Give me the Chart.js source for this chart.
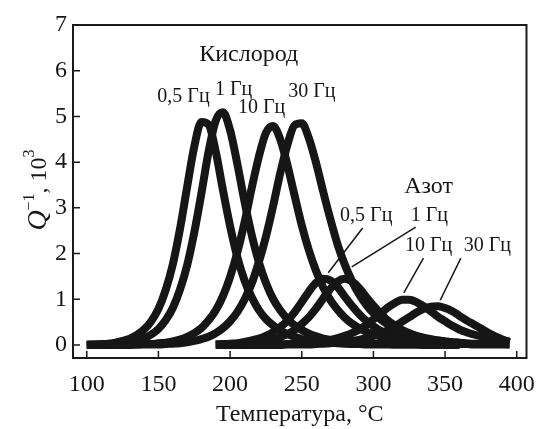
<!DOCTYPE html>
<html>
<head>
<meta charset="utf-8">
<script src="https://cdn.jsdelivr.net/npm/chart.js@4.4.1/dist/chart.umd.min.js"></script>
<style>
  html, body { margin: 0; padding: 0; background: #fff; }
</style>
</head>
<body>
<canvas id="chart" width="547" height="429"></canvas>
<script>
// Температурные сетки (°C)
const tempOxygen = [100,105,110,115,120,125,130,135,140,145,150,155,160,165,170,175,180,185,190,195,
  200,205,210,215,220,225,230,235,240,245,250,255,260,265,270,275,280,285,290,295,
  300,305,310,315,320,325,330,335,340,345,350,355,360]
const tempNitrogen = [190,195,200,205,210,215,220,225,230,235,240,245,250,255,260,265,270,275,280,285,
  290,295,300,305,310,315,320,325,330,335,340,345,350,355,360,365,370,375,380,385,390,395]

// Кислород, Q^-1 * 10^3
const oxy05 = [0.01,0.01,0.02,0.03,0.05,0.09,0.14,0.22,0.34,0.52,0.79,1.20,1.76,2.53,3.45,4.34,4.88,4.82,4.23,3.39,
  2.60,1.93,1.42,1.05,0.77,0.57,0.43,0.32,0.24,0.18,0.13,0.10,0.08,0.06,0.05,0.04,0.03,0.02,0.02,0.01,
  0.01,0.01,0.01,0.01,0.01,0.01,0.01,0.00,0.00,0.00,0.00,0.00,0.00]
const oxy1 = [0.00,0.01,0.01,0.01,0.02,0.04,0.06,0.10,0.15,0.23,0.35,0.54,0.81,1.21,1.74,2.46,3.32,4.23,4.91,5.09,
  4.70,3.97,3.15,2.42,1.82,1.36,1.01,0.76,0.57,0.43,0.33,0.25,0.19,0.14,0.11,0.09,0.07,0.05,0.04,0.03,
  0.03,0.02,0.02,0.01,0.01,0.01,0.01,0.01,0.01,0.01,0.00,0.00,0.00]
const oxy10 = [0.00,0.00,0.00,0.01,0.01,0.01,0.01,0.01,0.02,0.02,0.04,0.05,0.08,0.12,0.18,0.26,0.37,0.54,0.76,1.07,
  1.49,2.02,2.67,3.42,4.11,4.64,4.79,4.50,3.94,3.27,2.62,2.07,1.62,1.26,0.98,0.77,0.60,0.47,0.37,0.29,
  0.23,0.19,0.15,0.12,0.10,0.08,0.06,0.05,0.04,0.03,0.03,0.02,0.02]
const oxy30 = [0.00,0.00,0.00,0.00,0.00,0.00,0.00,0.01,0.01,0.01,0.01,0.02,0.03,0.04,0.06,0.09,0.13,0.18,0.26,0.37,
  0.52,0.72,0.99,1.34,1.81,2.37,3.04,3.76,4.38,4.81,4.85,4.52,3.98,3.35,2.75,2.20,1.76,1.40,1.11,0.88,
  0.70,0.56,0.45,0.36,0.29,0.24,0.19,0.15,0.12,0.10,0.08,0.06,0.05]

// Азот
const nit05 = [0.01,0.02,0.03,0.04,0.07,0.10,0.14,0.20,0.28,0.39,0.53,0.72,0.94,1.17,1.36,1.45,1.41,1.27,1.06,0.86,
  0.68,0.53,0.41,0.31,0.24,0.19,0.15,0.11,0.09,0.07,0.06,0.04,0.03,0.03,0.02,0.02,0.01,0.01,0.01,0.01,0.01,0.01]
const nit1 = [0.01,0.01,0.01,0.02,0.03,0.04,0.06,0.09,0.12,0.17,0.24,0.33,0.46,0.61,0.80,1.02,1.23,1.39,1.45,1.39,
  1.25,1.05,0.86,0.69,0.54,0.43,0.33,0.26,0.20,0.16,0.13,0.10,0.08,0.06,0.05,0.04,0.03,0.03,0.02,0.02,0.02,0.01]
const nit10 = [0.00,0.00,0.00,0.00,0.00,0.00,0.01,0.01,0.01,0.01,0.02,0.02,0.03,0.04,0.06,0.08,0.11,0.15,0.20,0.26,
  0.34,0.44,0.56,0.69,0.82,0.92,0.99,0.99,0.94,0.85,0.74,0.62,0.52,0.42,0.34,0.28,0.23,0.19,0.15,0.12,0.10,0.08]
const nit30 = [0.00,0.00,0.00,0.00,0.00,0.00,0.00,0.00,0.00,0.00,0.01,0.01,0.01,0.01,0.02,0.03,0.04,0.05,0.07,0.09,
  0.11,0.15,0.20,0.25,0.32,0.41,0.51,0.61,0.71,0.79,0.84,0.85,0.81,0.74,0.64,0.54,0.45,0.36,0.27,0.19,0.12,0.06]

// Оси
const xTicks = [100, 150, 200, 250, 300, 350, 400]
const yTicks = [0, 1, 2, 3, 4, 5, 6, 7]

// Подписи (координаты в единицах данных)
const labelText = ['Кислород', '0,5 Гц', '1 Гц', '10 Гц', '30 Гц', 'Азот', '0,5 Гц', '1 Гц', '10 Гц', '30 Гц']
const labelX = [213, 167.5, 202.5, 222, 257, 338.5, 295, 339, 338.5, 379.5]
const labelY = [6.35, 5.43, 5.58, 5.19, 5.53, 3.46, 2.82, 2.82, 2.17, 2.17]
const labelSize = [24, 20, 20, 20, 20, 24, 20, 20, 20, 20]
// Выноски
const leaderFrom = [[292.5, 2.56], [329.5, 2.58], [334.9, 1.90], [361, 1.90]]
const leaderTo = [[268.5, 1.58], [284.9, 1.71], [321.2, 1.14], [346.6, 0.98]]

const serif = "'Liberation Serif', 'Times New Roman', serif"
const ink = '#161616'

function toPoints(xs, ys) {
  return xs.map((x, i) => ({ x: x, y: ys[i] }))
}

const series = [
  [tempOxygen, oxy05], [tempOxygen, oxy1], [tempOxygen, oxy10], [tempOxygen, oxy30],
  [tempNitrogen, nit05], [tempNitrogen, nit1], [tempNitrogen, nit10], [tempNitrogen, nit30]
]

const datasets = series.map(s => ({
  data: toPoints(s[0], s[1]),
  borderColor: ink,
  borderWidth: 8,
  pointRadius: 0,
  cubicInterpolationMode: 'monotone',
  borderCapStyle: 'butt',
  borderJoinStyle: 'round',
  fill: false
}))

// Рамка и внутренние засечки
const frameTicks = {
  id: 'frameTicks',
  afterDatasetsDraw(chart) {
    const ctx = chart.ctx
    const { left, right, top, bottom } = chart.chartArea
    const xs = chart.scales.x
    const ys = chart.scales.y
    ctx.save()
    ctx.strokeStyle = '#1a1a1a'
    ctx.lineWidth = 2
    ctx.strokeRect(left, top, right - left, bottom - top)
    ctx.lineWidth = 1.5
    ctx.beginPath()
    xTicks.forEach(v => {
      const p = xs.getPixelForValue(v)
      ctx.moveTo(p, bottom)
      ctx.lineTo(p, bottom - 7)
    })
    yTicks.forEach(v => {
      const p = ys.getPixelForValue(v)
      ctx.moveTo(left, p)
      ctx.lineTo(left + 7, p)
    })
    ctx.stroke()
    ctx.restore()
  }
}

// Текстовые подписи и выноски
const annotations = {
  id: 'annotations',
  afterDatasetsDraw(chart) {
    const ctx = chart.ctx
    const xs = chart.scales.x
    const ys = chart.scales.y
    ctx.save()
    ctx.fillStyle = ink
    ctx.textAlign = 'center'
    ctx.textBaseline = 'middle'
    labelText.forEach((t, i) => {
      ctx.font = labelSize[i] + 'px ' + serif
      ctx.fillText(t, xs.getPixelForValue(labelX[i]), ys.getPixelForValue(labelY[i]))
    })
    ctx.strokeStyle = ink
    ctx.lineWidth = 1.5
    ctx.beginPath()
    leaderFrom.forEach((a, i) => {
      const b = leaderTo[i]
      ctx.moveTo(xs.getPixelForValue(a[0]), ys.getPixelForValue(a[1]))
      ctx.lineTo(xs.getPixelForValue(b[0]), ys.getPixelForValue(b[1]))
    })
    ctx.stroke()
    ctx.restore()
  }
}

// Подпись оси Y: Q^-1, 10^3
const yTitle = {
  id: 'yTitle',
  afterDraw(chart) {
    const ctx = chart.ctx
    const parts = [
      { t: 'Q', font: 'italic 28px ' + serif, dy: 0 },
      { t: '\u22121', font: '16px ' + serif, dy: -12 },
      { t: ', 10', font: '24px ' + serif, dy: 0 },
      { t: '3', font: '16px ' + serif, dy: -12 }
    ]
    ctx.save()
    let total = 0
    parts.forEach(p => { ctx.font = p.font; p.w = ctx.measureText(p.t).width; total += p.w })
    ctx.translate(46, 190)
    ctx.rotate(-Math.PI / 2)
    ctx.fillStyle = ink
    ctx.textBaseline = 'alphabetic'
    ctx.textAlign = 'left'
    let x = -total / 2
    parts.forEach(p => {
      ctx.font = p.font
      ctx.fillText(p.t, x, p.dy)
      x += p.w
    })
    ctx.restore()
  }
}

new Chart(document.getElementById('chart'), {
  type: 'line',
  data: { datasets: datasets },
  options: {
    responsive: false,
    animation: false,
    layout: { padding: { top: 25, right: 12, left: 0, bottom: 0 } },
    plugins: {
      legend: { display: false },
      tooltip: { enabled: false }
    },
    scales: {
      x: {
        type: 'linear',
        min: 90.4,
        max: 406.8,
        afterBuildTicks: s => { s.ticks = xTicks.map(v => ({ value: v })) },
        afterFit: s => { s.height = 71 },
        grid: { display: false, drawTicks: false },
        border: { display: false },
        ticks: { color: ink, padding: 12, maxRotation: 0, font: { family: serif, size: 24 } },
        title: { display: true, text: 'Температура, °C', color: ink, padding: { top: 0, bottom: 0 }, font: { family: serif, size: 24 } }
      },
      y: {
        type: 'linear',
        min: -0.284,
        max: 7,
        afterBuildTicks: s => { s.ticks = yTicks.map(v => ({ value: v })) },
        afterFit: s => { s.width = 73 },
        grid: { display: false, drawTicks: false },
        border: { display: false },
        ticks: { color: ink, padding: 6, font: { family: serif, size: 24 } }
      }
    }
  },
  plugins: [frameTicks, annotations, yTitle]
})
</script>
</body>
</html>
